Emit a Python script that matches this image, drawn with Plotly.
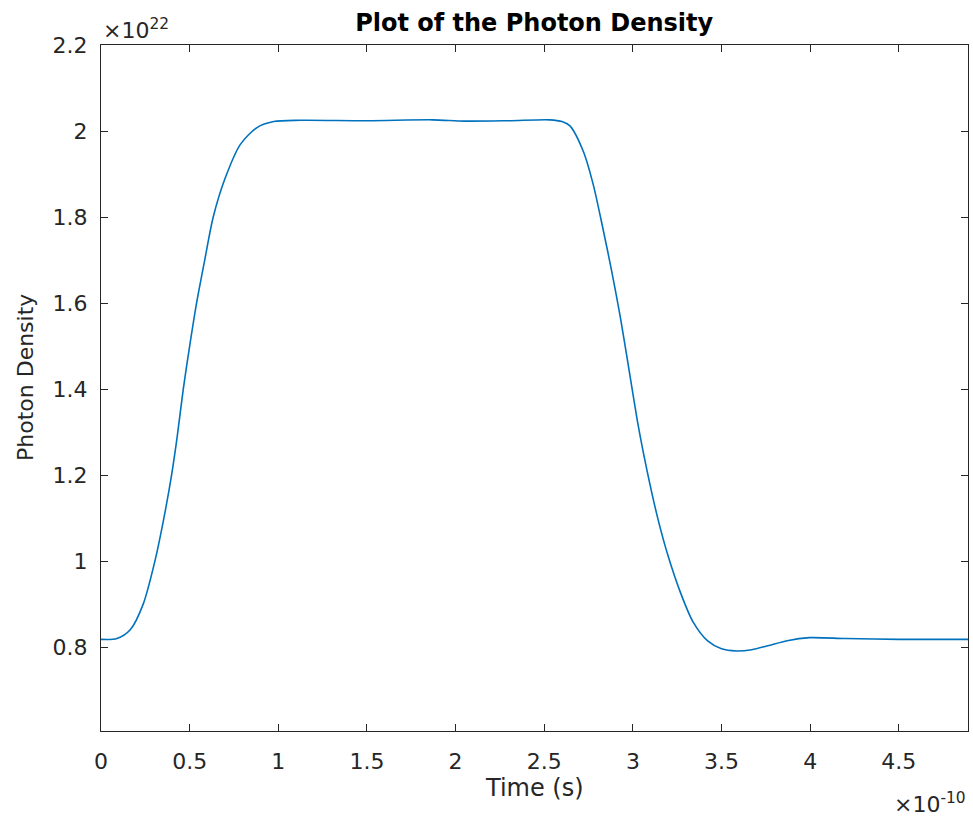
import plotly.graph_objects as go

# Time in units of 1e-10 s, photon density in units of 1e22
time_e10 = [0, 0.09, 0.166, 0.238, 0.304, 0.35, 0.398, 0.43, 0.464, 0.50, 0.539, 0.585,
            0.633, 0.70, 0.786, 0.88, 0.974, 1.124, 1.5, 1.87, 2.05, 2.3, 2.53, 2.6,
            2.645, 2.72, 2.776, 2.83, 2.88, 2.93, 2.98, 3.03, 3.08, 3.14, 3.20, 3.27,
            3.34, 3.42, 3.50, 3.583, 3.67, 3.76, 3.87, 3.996, 4.2, 4.5, 4.89]
density_e22 = [0.818, 0.820, 0.841, 0.90, 1.0, 1.09, 1.2, 1.29, 1.4, 1.50, 1.6, 1.70,
               1.8, 1.89, 1.969, 2.008, 2.022, 2.025, 2.024, 2.026, 2.023, 2.024, 2.026, 2.022,
               2.012, 1.953, 1.876, 1.775, 1.675, 1.565, 1.44, 1.315, 1.21, 1.10, 1.01, 0.925,
               0.858, 0.815, 0.796, 0.791, 0.794, 0.803, 0.815, 0.822, 0.820, 0.818, 0.818]

x_ticks = [0, 0.5, 1, 1.5, 2, 2.5, 3, 3.5, 4, 4.5]
x_ticklabels = ["0", "0.5", "1", "1.5", "2", "2.5", "3", "3.5", "4", "4.5"]
y_ticks = [0.8, 1.0, 1.2, 1.4, 1.6, 1.8, 2.0, 2.2]
y_ticklabels = ["0.8", "1", "1.2", "1.4", "1.6", "1.8", "2", "2.2"]

AX = "#262626"
FONT = "DejaVu Sans, Liberation Sans, Arial, sans-serif"

fig = go.Figure()
fig.add_trace(go.Scatter(x=time_e10, y=density_e22, mode="lines",
                         line=dict(color="#0072BD", width=1.6, shape="spline", smoothing=0.8),
                         showlegend=False))

axis_common = dict(showline=True, linecolor=AX, linewidth=1.3, mirror="ticks",
                   ticks="inside", ticklen=7, tickwidth=1.3, tickcolor=AX,
                   showgrid=False, zeroline=False,
                   tickfont=dict(family=FONT, size=22, color=AX))

fig.update_layout(
    width=973, height=820,
    margin=dict(l=101, r=5, t=45, b=89),
    paper_bgcolor="white", plot_bgcolor="white",
    title=dict(text="<b>Plot of the Photon Density</b>", x=0.549, xanchor="center",
               y=0.973, yanchor="middle",
               font=dict(family=FONT, size=24, color="black")),
    xaxis=dict(range=[0, 4.89], tickvals=x_ticks, ticktext=x_ticklabels,
               ticklabelstandoff=10, **axis_common),
    yaxis=dict(range=[0.605, 2.2], tickvals=y_ticks, ticktext=y_ticklabels,
               ticklabelstandoff=8, **axis_common),
    annotations=[
        dict(text="Time (s)", xref="paper", yref="paper", x=0.5, y=0,
             xanchor="center", yanchor="middle", yshift=-57, showarrow=False,
             font=dict(family=FONT, size=24, color=AX)),
        dict(text="Photon Density", xref="paper", yref="paper", x=0, y=0.5,
             xanchor="center", yanchor="middle", xshift=-76, yshift=10, textangle=-90,
             showarrow=False, font=dict(family=FONT, size=22, color=AX)),
        dict(text="×10<sup>22</sup>", xref="paper", yref="paper", x=0, y=1.0,
             xanchor="left", yanchor="bottom", yshift=0, showarrow=False,
             font=dict(family=FONT, size=22, color=AX)),
        dict(text="×10<sup>-10</sup>", xref="paper", yref="paper", x=1.0, y=0,
             xanchor="right", yanchor="top", yshift=-56, showarrow=False,
             font=dict(family=FONT, size=22, color=AX)),
    ],
)

fig.write_html("out.html")
